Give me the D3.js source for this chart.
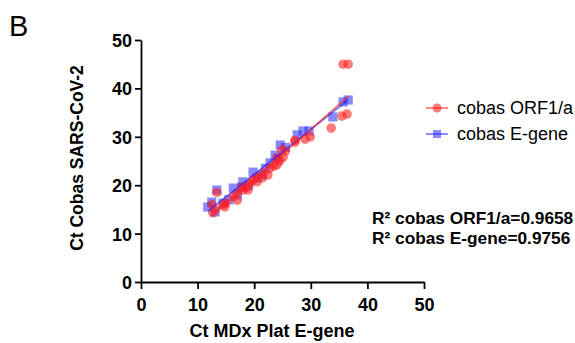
<!DOCTYPE html>
<html><head><meta charset="utf-8">
<script src="https://cdn.jsdelivr.net/npm/d3@7"></script>
<style>body{margin:0;background:#fff}svg{display:block;font-family:"Liberation Sans",Arial,sans-serif}</style>
</head><body><svg id="c" width="575" height="343"></svg>
<script>
const panelLabel = "B";
const xTitle = "Ct MDx Plat E-gene";
const yTitle = "Ct Cobas SARS-CoV-2";
const xTicks = [0, 10, 20, 30, 40, 50];
const yTicks = [0, 10, 20, 30, 40, 50];
const seriesNames = ["cobas ORF1/a", "cobas E-gene"];
const r2Labels = ["R\u00B2 cobas ORF1/a=0.9658", "R\u00B2 cobas E-gene=0.9756"];

const orfX = [12.5,12.7,13.1,13.4,14.5,14.8,15.0,16.3,17.0,17.0,17.8,18.0,18.7,18.9,19.3,19.8,20.5,20.5,21.4,21.6,22.4,22.8,23.5,24.0,24.0,24.5,25.1,24.9,25.5,27.2,27.2,29.0,29.9,33.6,35.5,36.4,35.7,36.6];
const orfY = [16.0,14.3,15.0,18.5,16.0,15.5,16.3,17.6,16.9,18.4,19.6,19.0,19.6,19.0,20.5,21.1,20.7,21.7,21.5,22.5,22.1,23.5,24.0,24.2,25.6,25.0,25.8,27.3,27.0,28.9,29.3,29.5,30.0,31.8,34.3,34.7,45.0,45.0];
const eX = [12.5,11.8,13.1,13.4,14.5,15.5,16.3,17.0,17.8,18.0,19.0,19.8,20.5,21.4,22.0,22.8,23.7,24.2,24.6,25.5,27.6,28.6,29.7,33.9,35.7,36.6];
const eY = [16.5,15.5,14.5,19.0,16.3,17.0,19.4,18.0,19.6,20.7,20.0,22.7,21.5,22.1,23.5,24.6,26.2,25.5,28.3,27.8,30.4,31.2,31.2,34.1,37.2,37.6];

const svg = d3.select("#c");
const x = d3.scaleLinear().domain([0, 50]).range([141, 424]);
const y = d3.scaleLinear().domain([0, 50]).range([282, 40]);

const red = "#ff1f1f", blue = "#2a2aff";

function fit(xs, ys) {
  const mx = d3.mean(xs), my = d3.mean(ys);
  let sxy = 0, sxx = 0;
  xs.forEach((v, i) => { sxy += (v - mx) * (ys[i] - my); sxx += (v - mx) ** 2; });
  const b = sxy / sxx;
  return { a: my - b * mx, b, x0: d3.min(xs), x1: d3.max(xs) };
}

// axes
const xAxis = svg.append("g").attr("transform", "translate(0,282)")
  .call(d3.axisBottom(x).tickValues(xTicks).tickSize(7).tickPadding(9).tickSizeOuter(0));
const yAxis = svg.append("g").attr("transform", "translate(141,0)")
  .call(d3.axisLeft(y).tickValues(yTicks).tickSize(6).tickPadding(3).tickSizeOuter(0));
[xAxis, yAxis].forEach(g => {
  g.selectAll("path,line").attr("stroke", "#000").attr("stroke-width", 1.8);
  g.selectAll("text").attr("font-size", 18).attr("font-weight", "bold").attr("fill", "#000")
    .attr("font-family", "'Liberation Sans', Arial, sans-serif");
});
yAxis.selectAll("text").attr("dy", "0.36em");

// points
const orf = orfX.map((v, i) => [v, orfY[i]]);
const eg = eX.map((v, i) => [v, eY[i]]);
svg.append("g").selectAll("rect").data(eg).join("rect")
  .attr("x", d => x(d[0]) - 4.6).attr("y", d => y(d[1]) - 4.6)
  .attr("width", 9.2).attr("height", 9.2).attr("fill", blue).attr("fill-opacity", 0.55);
svg.append("g").selectAll("circle").data(orf).join("circle")
  .attr("cx", d => x(d[0])).attr("cy", d => y(d[1])).attr("r", 4.8)
  .attr("fill", red).attr("fill-opacity", 0.6);

// regression lines
[[fit(eX, eY), blue], [fit(orfX, orfY), red]].forEach(([f, col]) => {
  svg.append("line")
    .attr("x1", x(f.x0)).attr("y1", y(f.a + f.b * f.x0))
    .attr("x2", x(f.x1)).attr("y2", y(f.a + f.b * f.x1))
    .attr("stroke", col).attr("stroke-width", 1.5).attr("stroke-opacity", 0.7);
});

// titles
svg.append("text").attr("x", 9).attr("y", 36).attr("font-size", 29).text(panelLabel);
svg.append("text").attr("x", 272).attr("y", 337).attr("text-anchor", "middle")
  .attr("font-size", 18).attr("font-weight", "bold").text(xTitle);
svg.append("text").attr("transform", "translate(83,158) rotate(-90)").attr("text-anchor", "middle")
  .attr("font-size", 17.5).attr("font-weight", "bold").text(yTitle);

// legend
const leg = svg.append("g");
[[108, red, "circle"], [134, blue, "rect"]].forEach(([ly, col, shape], i) => {
  leg.append("line").attr("x1", 426).attr("x2", 448).attr("y1", ly).attr("y2", ly)
    .attr("stroke", col).attr("stroke-width", 1.5).attr("stroke-opacity", 0.7);
  if (shape === "circle") leg.append("circle").attr("cx", 437).attr("cy", ly).attr("r", 4.5).attr("fill", col).attr("fill-opacity", 0.6);
  else leg.append("rect").attr("x", 433).attr("y", ly - 4).attr("width", 8).attr("height", 8).attr("fill", col).attr("fill-opacity", 0.55);
  leg.append("text").attr("x", 457).attr("y", ly + 6).attr("font-size", 18).text(seriesNames[i]);
});

// R2
r2Labels.forEach((t, i) => {
  svg.append("text").attr("x", 372).attr("y", 224 + i * 20).attr("font-size", 17.3)
    .attr("font-weight", "bold").text(t);
});
</script></body></html>
